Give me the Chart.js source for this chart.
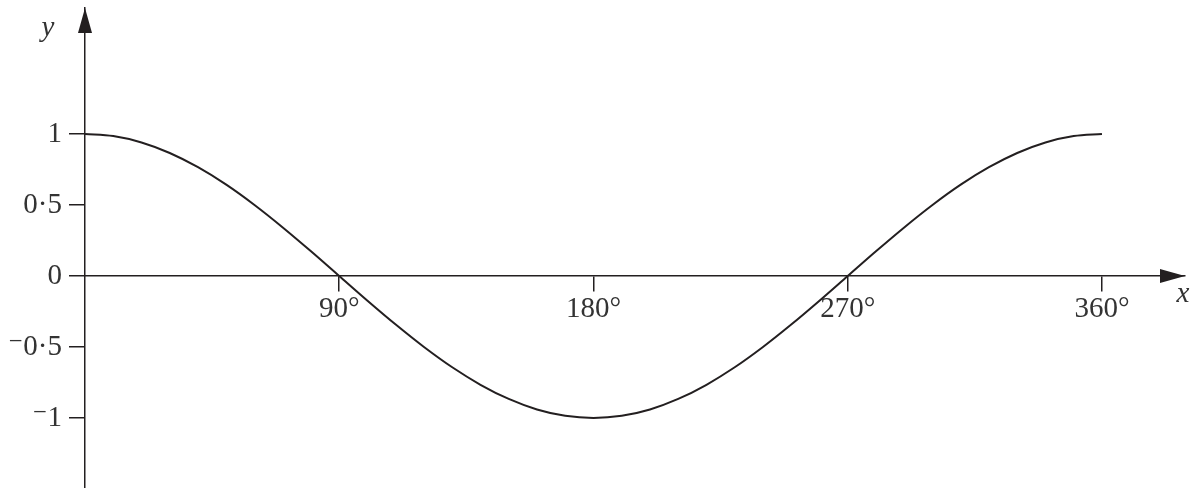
<!DOCTYPE html>
<html>
<head>
<meta charset="utf-8">
<script src="https://cdn.jsdelivr.net/npm/chart.js@4/dist/chart.umd.min.js"></script>
<style>
  html, body { margin: 0; padding: 0; background: #fff; }
  #wrap { width: 1195px; height: 488px; }
</style>
</head>
<body>
<div id="wrap"><canvas id="c" width="1195" height="488"></canvas></div>
<script>
// angle in degrees, and y
const angles = [0, 10, 20, 30, 40, 50, 60, 70, 80, 90, 100, 110, 120, 130, 140, 150, 160, 170, 180,
  190, 200, 210, 220, 230, 240, 250, 260, 270, 280, 290, 300, 310, 320, 330, 340, 350, 360];
const yValues = [1, 0.985, 0.94, 0.866, 0.766, 0.643, 0.5, 0.342, 0.174, 0, -0.174, -0.342, -0.5, -0.643, -0.766, -0.866, -0.94, -0.985, -1,
  -0.985, -0.94, -0.866, -0.766, -0.643, -0.5, -0.342, -0.174, 0, 0.174, 0.342, 0.5, 0.643, 0.766, 0.866, 0.94, 0.985, 1];
const xTicks = [90, 180, 270, 360];
const yTicks = [-1, -0.5, 0, 0.5, 1];

const ink = '#231f20';
const labelFont = { family: '"Liberation Serif", "DejaVu Serif", serif', size: 29 };

const fmtY = (v) => {
  const s = String(Math.abs(v)).replace('.', '\u00b7');
  return v < 0 ? '\u207b' + s : s;
};

const noPad = (s) => {
  s.paddingTop = 0;
  s.paddingBottom = 0;
  s.paddingLeft = 0;
  s.paddingRight = 0;
};

// arrowheads + axis letters
const axisDecor = {
  id: 'axisDecor',
  afterDraw(chart) {
    const { ctx, chartArea, scales } = chart;
    const ox = scales.x.getPixelForValue(0);
    const oy = scales.y.getPixelForValue(0);
    ctx.save();
    ctx.fillStyle = ink;
    // y arrow
    ctx.beginPath();
    ctx.moveTo(ox, chartArea.top);
    ctx.lineTo(ox - 7, chartArea.top + 25);
    ctx.lineTo(ox + 7, chartArea.top + 25);
    ctx.closePath();
    ctx.fill();
    // x arrow
    ctx.beginPath();
    ctx.moveTo(chartArea.right, oy);
    ctx.lineTo(chartArea.right - 25, oy - 7);
    ctx.lineTo(chartArea.right - 25, oy + 7);
    ctx.closePath();
    ctx.fill();
    ctx.font = 'italic 29px "Liberation Serif", "DejaVu Serif", serif';
    ctx.fillStyle = '#333';
    ctx.textAlign = 'center';
    ctx.textBaseline = 'alphabetic';
    ctx.fillText('y', ox - 37, chartArea.top + 28);
    ctx.fillText('x', chartArea.right - 2, oy + 26);
    ctx.restore();
  }
};

new Chart(document.getElementById('c'), {
  type: 'line',
  data: {
    datasets: [{
      data: angles.map((a, i) => ({ x: a, y: yValues[i] })),
      borderColor: ink,
      borderWidth: 2,
      pointRadius: 0,
      tension: 0.33,
      fill: false
    }]
  },
  options: {
    responsive: false,
    animation: false,
    layout: { padding: { left: 0, right: 10, top: 8, bottom: 0 } },
    plugins: { legend: { display: false }, tooltip: { enabled: false } },
    scales: {
      x: {
        type: 'linear',
        position: { y: 0 },
        min: 0,
        max: 389.4,
        afterFit: (s) => { s.height = 0; noPad(s); },
        afterBuildTicks: (s) => { s.ticks = xTicks.map((v) => ({ value: v })); },
        grid: { drawOnChartArea: false, drawTicks: true, tickLength: 15, color: ink, lineWidth: 1.5 },
        border: { display: true, color: ink, width: 1.5 },
        ticks: { color: '#333', font: labelFont, padding: 1, maxRotation: 0, callback: (v) => v + '\u00b0' }
      },
      y: {
        type: 'linear',
        position: 'left',
        min: -1.493,
        max: 1.887,
        afterFit: (s) => { s.width = 85; noPad(s); },
        afterBuildTicks: (s) => { s.ticks = yTicks.map((v) => ({ value: v })); },
        grid: { drawOnChartArea: false, drawTicks: true, tickLength: 16, color: ink, lineWidth: 1.5 },
        border: { display: true, color: ink, width: 1.5 },
        ticks: { color: '#333', font: labelFont, padding: 7, callback: (v) => fmtY(v) }
      }
    }
  },
  plugins: [axisDecor]
});
</script>
</body>
</html>
